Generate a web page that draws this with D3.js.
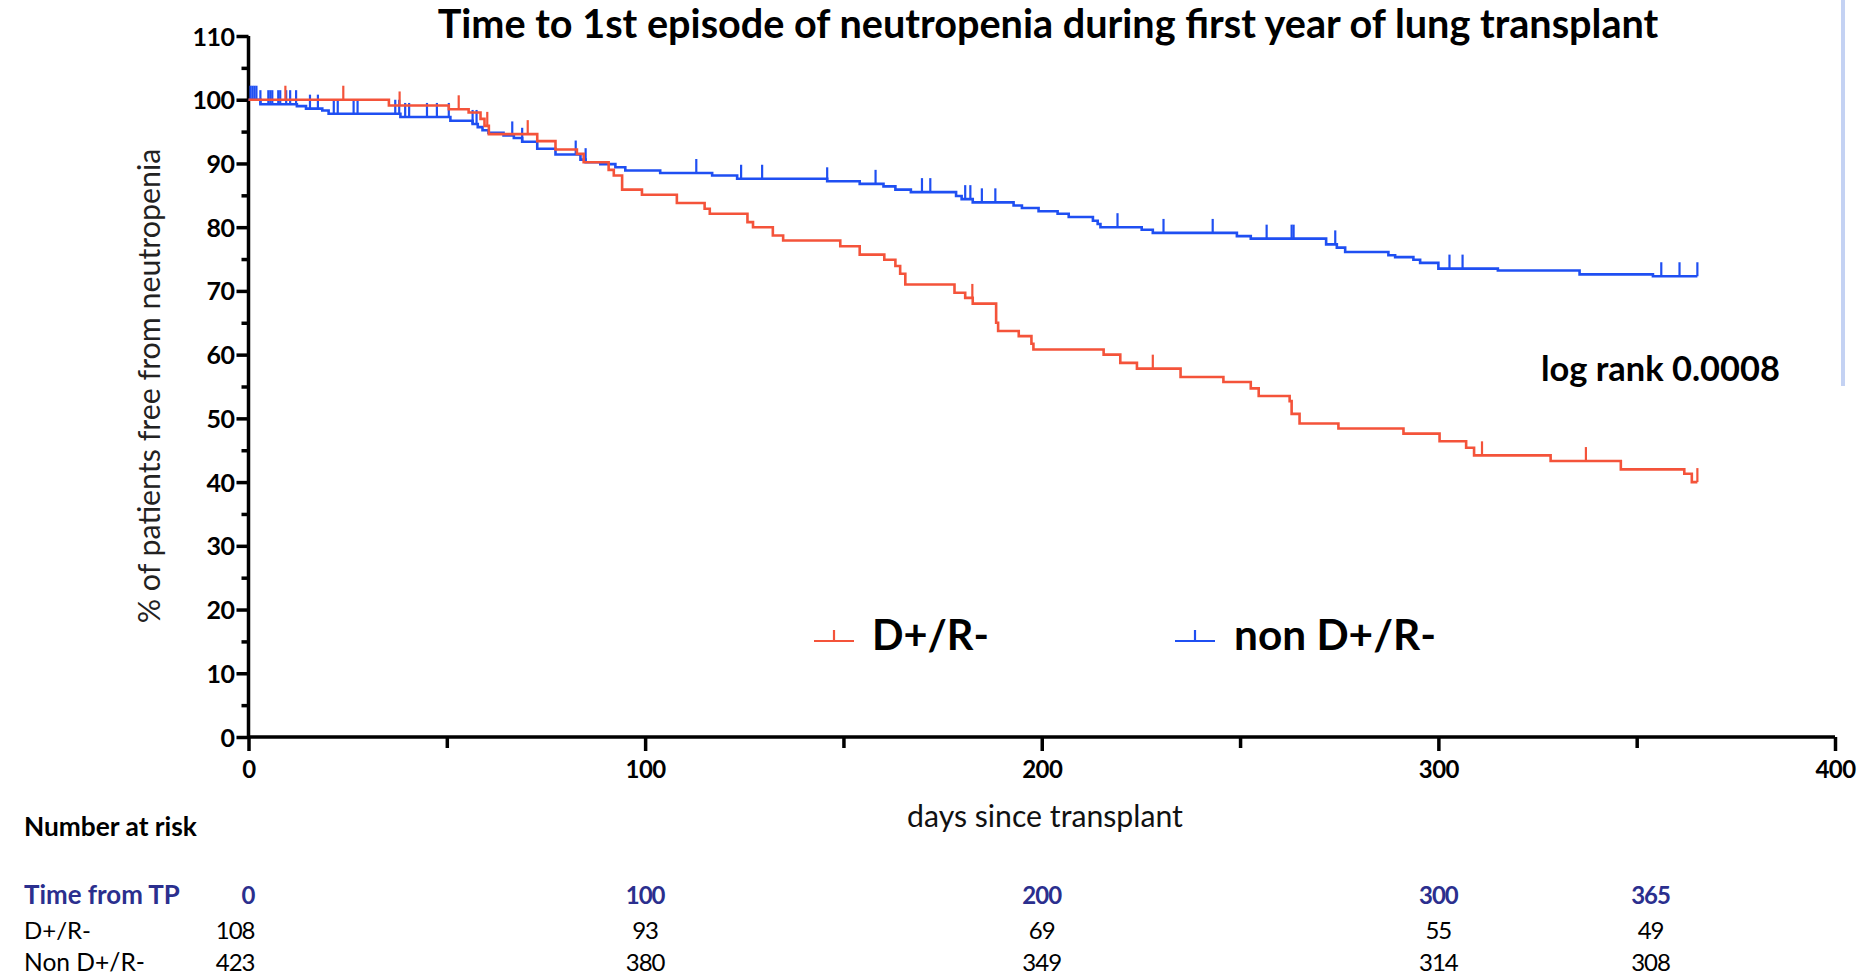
<!DOCTYPE html>
<html>
<head>
<meta charset="utf-8">
<script src="https://cdn.jsdelivr.net/npm/d3@7"></script>
<style>
  html, body { margin: 0; padding: 0; background: #fff; }
  svg { display: block; }
  text { font-family: Lato, "Open Sans", sans-serif; }
</style>
</head>
<body>
<svg id="chart" width="1861" height="978"></svg>
<script>
// ---------------- DATA ----------------
const title = "Time to 1st episode of neutropenia during first year of lung transplant";
const yLabel = "% of patients free from neutropenia";
const xLabel = "days since transplant";
const seriesNames = ["D+/R-", "non D+/R-"];
const logRankText = "log rank 0.0008";
const followUpEnd = 365.3;

// Kaplan-Meier steps [day, % free] for D+/R-
const redSteps = [
  [0,100],[35.4,99.1],[50.5,98.5],[55.5,98.0],[58.5,97.0],[59.5,95.9],[60.6,94.6],[72.8,93.5],
  [77.4,92.2],[82.8,91.5],[84.5,90.2],[90.8,89.0],[92.1,88.1],[94.2,85.9],[99.2,85.1],[108,83.8],
  [115,82.9],[116.3,82.1],[125.8,80.8],[127.2,80.0],[132.2,78.7],[134.8,77.9],[149.2,77.0],
  [154.1,75.7],[160.3,74.9],[163.1,73.9],[164.3,72.7],[165.6,71.0],[178,69.7],[180.7,68.9],
  [182.6,68.0],[188.5,65.0],[189,63.7],[194.2,62.9],[197.4,61.7],[197.9,60.8],[215.6,60.0],
  [219.8,58.7],[224,57.8],[235,56.5],[245.8,55.7],[252.7,54.7],[254.7,53.5],[262.5,52.7],
  [263,50.7],[265,49.2],[274.8,48.4],[291.2,47.6],[300.3,46.4],[307,45.4],[309,44.2],
  [328.3,43.3],[346,42.0],[362,41.3],[363.9,40.0]
];
const redCensored = [9.3, 23.9, 38.1, 53, 60.2, 70.4, 182.5, 228, 311, 337.2, 365.3];

// Kaplan-Meier steps [day, % free] for non D+/R-
const blueSteps = [
  [0,100],[3,99.3],[12.2,99.0],[14.5,98.6],[18.6,98.3],[20.2,97.8],[38.3,97.3],[50.9,96.7],
  [56.5,96.2],[57.8,95.7],[59,95.2],[60.5,94.8],[64.3,94.4],[66.9,94.0],[69,93.4],[72.8,92.3],
  [77.4,91.4],[83.7,90.6],[85,90.2],[88.7,89.9],[92.5,89.4],[95,88.9],[103.8,88.5],[116.9,88.1],
  [123.2,87.6],[145.9,87.2],[154.1,86.8],[160.1,86.4],[163.1,85.9],[167,85.5],[178.4,84.9],
  [179.8,84.4],[182.6,83.9],[192.9,83.4],[195,83.0],[199.2,82.5],[204,82.1],[206.8,81.6],
  [212.9,81.0],[214.1,80.5],[214.8,80.0],[225.2,79.6],[228,79.1],[249.2,78.6],[252.7,78.2],
  [271.7,77.3],[274.4,76.8],[276.5,76.1],[287.4,75.6],[289.1,75.3],[293.7,74.9],[295.4,74.4],
  [300,73.5],[315,73.2],[335.6,72.6],[354.1,72.3]
];
const blueCensored = [0.5,1,1.5,2,3,5,5.5,6,7.5,8,9.5,10.5,12,15.5,17.5,21.5,22.5,26.5,27.5,
  37,38,39.5,40.5,45,47.5,50.5,56.5,57.5,66.5,69,82.5,85,112.9,124.2,129.5,145.9,158.1,169.8,
  171.9,180.7,182,184.9,188.3,219.1,230.7,243.1,256.7,263,263.5,274,302.8,306.1,356.2,360.8,365.3];

// Number-at-risk table
const riskTimes = [0, 100, 200, 300, 365];
const riskRed = [108, 93, 69, 55, 49];
const riskBlue = [423, 380, 349, 314, 308];
const riskHeader = "Number at risk";
const riskRowLabels = ["Time from TP", "D+/R-", "Non D+/R-"];

const yTicks = d3.range(0, 111, 5);
const xTicks = d3.range(0, 401, 50);

// ---------------- LAYOUT ----------------
const svg = d3.select("#chart");
const RED = "#f4533a", BLUE = "#1f4ff2", NAVY = "#2b2f8e";
const x = d3.scaleLinear().domain([0, 400]).range([248.5, 1835]);
const y = d3.scaleLinear().domain([0, 110]).range([737, 36]);

function fitWidth(sel, target) {
  const fs = parseFloat(sel.style("font-size"));
  const w = sel.node().getComputedTextLength();
  sel.style("font-size", (fs * target / w) + "px");
  return sel;
}

// faint vertical line at right edge
svg.append("line").attr("x1", 1843).attr("x2", 1843).attr("y1", 0).attr("y2", 386)
  .attr("stroke", "#c4d2f3").attr("stroke-width", 4);

// Title
fitWidth(svg.append("text").attr("x", 1048).attr("y", 38).attr("text-anchor", "middle")
  .style("font-weight", 700).style("font-size", "32px").attr("fill", "#000").text(title), 1221);

// Axes
const yAxis = d3.axisLeft(y).tickValues(yTicks).tickSize(12).tickSizeOuter(0)
  .tickFormat(d => d % 10 === 0 ? d : "");
const gy = svg.append("g").attr("transform", `translate(${x(0)},0)`).call(yAxis);
gy.select(".domain").attr("stroke", "#000").attr("stroke-width", 3.5).attr("d", `M0,${y(110)}V${y(0)+1.5}`);
gy.selectAll(".tick line").attr("stroke", "#000").attr("stroke-width", 3.5)
  .attr("x2", d => d % 10 === 0 ? -12 : -7);
gy.selectAll(".tick text").attr("x", -14).attr("dy", "0.36em")
  .style("font-size", "25px").style("font-weight", 700).style("letter-spacing", "-0.5px").attr("fill", "#000");

const xAxis = d3.axisBottom(x).tickValues(xTicks).tickSize(13).tickSizeOuter(0)
  .tickFormat(d => d % 100 === 0 ? d : "");
const gx = svg.append("g").attr("transform", `translate(0,${y(0)})`).call(xAxis);
gx.select(".domain").attr("stroke", "#000").attr("stroke-width", 3.5).attr("d", `M${x(0)-1.5},0H${x(400)}`);
gx.selectAll(".tick line").attr("stroke", "#000").attr("stroke-width", 3.5)
  .attr("y2", d => d % 100 === 0 ? 14 : 11);
gx.selectAll(".tick text").attr("y", 24).attr("dy", "0.71em")
  .style("font-size", "24px").style("font-weight", 700).style("letter-spacing", "-0.5px").attr("fill", "#000");

// Axis titles
fitWidth(svg.append("text").attr("transform", `translate(160,386) rotate(-90)`)
  .attr("text-anchor", "middle").style("font-size", "26px").attr("fill", "#222").text(yLabel), 475);
fitWidth(svg.append("text").attr("x", 1045).attr("y", 827).attr("text-anchor", "middle")
  .style("font-size", "24px").attr("fill", "#111").text(xLabel), 276);

// KM curves
const line = d3.line().x(d => x(d[0])).y(d => y(d[1])).curve(d3.curveStepAfter);
function withEnd(steps) { return steps.concat([[followUpEnd, steps[steps.length - 1][1]]]); }
const bis = d3.bisector(d => d[0]).right;
function valueAt(steps, t) { return steps[Math.max(0, bis(steps, t) - 1)][1]; }

const series = [
  { steps: blueSteps, cens: blueCensored, color: BLUE },
  { steps: redSteps, cens: redCensored, color: RED }
];
series.forEach(s => {
  svg.append("path").datum(withEnd(s.steps)).attr("d", line)
    .attr("fill", "none").attr("stroke", s.color).attr("stroke-width", 2.6);
  svg.append("g").selectAll("line").data(s.cens).join("line")
    .attr("x1", d => x(d)).attr("x2", d => x(d))
    .attr("y1", d => y(valueAt(s.steps, d))).attr("y2", d => y(valueAt(s.steps, d)) - 14)
    .attr("stroke", s.color).attr("stroke-width", 2.2);
});

// Legend
const legend = [
  { name: seriesNames[0], color: RED, sx: 814, tx: 872, w: 117 },
  { name: seriesNames[1], color: BLUE, sx: 1175, tx: 1234, w: 202 }
];
legend.forEach(l => {
  const g = svg.append("g");
  g.append("line").attr("x1", l.sx).attr("x2", l.sx + 40).attr("y1", 641).attr("y2", 641)
    .attr("stroke", l.color).attr("stroke-width", 2.2);
  g.append("line").attr("x1", l.sx + 20).attr("x2", l.sx + 20).attr("y1", 641).attr("y2", 630)
    .attr("stroke", l.color).attr("stroke-width", 2.2);
  fitWidth(g.append("text").attr("x", l.tx).attr("y", 650).style("font-weight", 700)
    .style("font-size", "36px").attr("fill", "#000").text(l.name), l.w);
});

// log rank
fitWidth(svg.append("text").attr("x", 1541).attr("y", 381).style("font-weight", 700)
  .style("font-size", "32px").attr("fill", "#000").text(logRankText), 239);

// Number at risk table
fitWidth(svg.append("text").attr("x", 24).attr("y", 836).style("font-weight", 700)
  .style("font-size", "22px").attr("fill", "#000").text(riskHeader), 173);

const rowY = [904, 939, 971];
const rowW = [156, 67, 121];
riskRowLabels.forEach((lab, i) => {
  fitWidth(svg.append("text").attr("x", 24).attr("y", rowY[i])
    .style("font-weight", i === 0 ? 700 : 400).style("font-size", "22px")
    .attr("fill", i === 0 ? NAVY : "#000").text(lab), rowW[i]);
});
const colX = t => t === 365 ? x(353.5) : x(t);
const rows = [
  { vals: riskTimes, color: NAVY, weight: 700 },
  { vals: riskRed, color: "#000", weight: 400 },
  { vals: riskBlue, color: "#000", weight: 400 }
];
rows.forEach((r, i) => {
  svg.append("g").selectAll("text").data(r.vals).join("text")
    .attr("x", (d, j) => j === 0 ? colX(riskTimes[j]) + 6 : colX(riskTimes[j]))
    .attr("y", rowY[i])
    .attr("text-anchor", (d, j) => j === 0 ? "end" : "middle")
    .style("font-size", "24px").style("font-weight", r.weight)
    .style("letter-spacing", "-1px")
    .attr("fill", r.color).text(d => d);
});
</script>
</body>
</html>
